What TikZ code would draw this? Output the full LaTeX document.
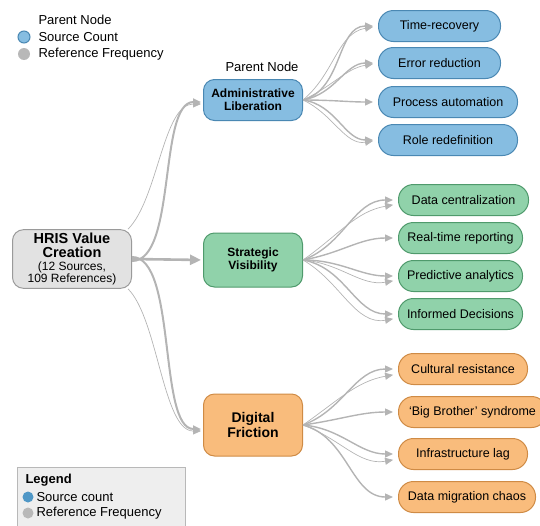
\documentclass[tikz,border=0pt]{standalone}
\usepackage{fontspec}
\setmainfont{Liberation Sans}
\usetikzlibrary{arrows.meta}
\usetikzlibrary{positioning, shapes.geometric}

\definecolor{rootfill}{HTML}{E2E2E2}
\definecolor{rootdraw}{HTML}{9A9A9A}
\definecolor{bluefill}{HTML}{86BDE1}
\definecolor{bluedraw}{HTML}{4A88B3}
\definecolor{greenfill}{HTML}{90D2AA}
\definecolor{greendraw}{HTML}{4F9A6C}
\definecolor{orangefill}{HTML}{F9BC7C}
\definecolor{orangedraw}{HTML}{CF8B45}
\definecolor{linkgray}{HTML}{B4B4B4}
\definecolor{dotblue}{HTML}{4F97C6}
\definecolor{dotgray}{HTML}{B8B8B8}

\tikzset{
    parent/.style={rounded corners=11pt, line width=1pt, align=center,
        minimum width=99pt, font=\fontsize{12}{13}\selectfont\bfseries},
    leaf/.style={rounded corners=15pt, line width=1pt, anchor=west,
        minimum height=31pt, font=\fontsize{12.5}{14}\selectfont},
    link/.style={draw=linkgray, line width=1.4pt,
        -{Triangle[length=8pt,width=7pt]}, shorten >=5pt},
    thinlink/.style={link, line width=0.7pt}
}

\begin{document}
\begin{tikzpicture}[x=1pt, y=-1pt]
        \useasboundingbox (0,0) rectangle (540,525);

        % top legend
        \node[anchor=west, font=\fontsize{13}{14}\selectfont] (lgp) at (35,20) {Parent Node};
        \node[circle, fill=bluefill, draw=bluedraw, line width=1pt, inner sep=0pt, minimum size=12pt] (lgbdot) at (24,37) {};
        \node[anchor=west, font=\fontsize{13}{14}\selectfont] (lgs) at (35,37) {Source Count};
        \node[circle, fill=dotgray, inner sep=0pt, minimum size=12pt] (lggdot) at (24,54) {};
        \node[anchor=west, font=\fontsize{13}{14}\selectfont] (lgr) at (35,54) {Reference Frequency};

        % root and parents
        \node[parent, fill=rootfill, draw=rootdraw, minimum width=119pt, minimum height=58pt,
            font=\fontsize{14.5}{14}\selectfont\bfseries] (root) at (72,259)
            {HRIS Value\\Creation\\[-1pt]{\fontsize{12}{11}\selectfont\mdseries (12 Sources,}\\[-2pt]{\fontsize{12}{11}\selectfont\mdseries 109 References)}};
        \node[parent, fill=bluefill, draw=bluedraw, minimum height=41pt] (adm) at (253,100) {Administrative\\Liberation};
        \node[font=\fontsize{13}{14}\selectfont] (admlbl) at (262,67) {Parent Node};
        \node[parent, fill=greenfill, draw=greendraw, minimum height=54pt] (strat) at (253,260) {Strategic\\Visibility};
        \node[parent, fill=orangefill, draw=orangedraw, minimum height=62pt,
            font=\fontsize{14}{15}\selectfont\bfseries] (fric) at (253,425) {Digital\\Friction};

        % leaves
        \node[leaf, fill=bluefill, draw=bluedraw, minimum width=122pt] (t1) at (378,26) {Time-recovery};
        \node[leaf, fill=bluefill, draw=bluedraw, minimum width=122pt] (t2) at (378,63) {Error reduction};
        \node[leaf, fill=bluefill, draw=bluedraw, minimum width=139pt] (t3) at (378,102) {Process automation};
        \node[leaf, fill=bluefill, draw=bluedraw, minimum width=139pt] (t4) at (378,140) {Role redefinition};

        \node[leaf, fill=greenfill, draw=greendraw, minimum width=130pt] (s1) at (398,200) {Data centralization};
        \node[leaf, fill=greenfill, draw=greendraw, minimum width=124pt] (s2) at (398,238) {Real-time reporting};
        \node[leaf, fill=greenfill, draw=greendraw, minimum width=124pt] (s3) at (398,276) {Predictive analytics};
        \node[leaf, fill=greenfill, draw=greendraw, minimum width=124pt] (s4) at (398,314) {Informed Decisions};

        \node[leaf, fill=orangefill, draw=orangedraw, minimum width=129pt] (f1) at (398,369) {Cultural resistance};
        \node[leaf, fill=orangefill, draw=orangedraw, minimum width=148pt] (f2) at (398,412) {`Big Brother' syndrome};
        \node[leaf, fill=orangefill, draw=orangedraw, minimum width=129pt] (f3) at (398,454) {Infrastructure lag};
        \node[leaf, fill=orangefill, draw=orangedraw, minimum width=137pt] (f4) at (398,497) {Data migration chaos};

        % root to parents
        \draw[link, line width=2.6pt, -{Triangle[length=11pt,width=10pt]}, shorten >=2pt] (root.east) -- (strat.west);
        \draw[link, line width=2pt, shorten >=2pt] ([yshift=-2pt]root.east) .. controls +(45,0) and +(-45,0) .. ([yshift=-2pt]adm.west);
        \draw[thinlink, shorten >=2pt] ([xshift=-4pt]root.north east) .. controls +(30,-30) and +(-40,0) .. ([yshift=-4pt]adm.west);
        \draw[link, line width=2pt, shorten >=2pt] ([yshift=2pt]root.east) .. controls +(45,0) and +(-45,0) .. ([yshift=-4pt]fric.west);
        \draw[thinlink, shorten >=2pt] ([xshift=-4pt]root.south east) .. controls +(30,30) and +(-40,0) .. ([yshift=-6pt]fric.west);

        % parents to leaves
        \foreach \leaf/\ang in {t1/15, t2/10, t3/0, t4/-8} {
            \draw[link] (adm.east) to[out=\ang, in=180] (\leaf.west);
        }
        \foreach \leaf/\ang in {t1/40, t2/25, t4/-25} {
            \draw[thinlink] (adm.east) to[out=\ang, in=190] (\leaf.west);
        }
        \foreach \leaf/\ang in {s1/20, s2/10, s3/0, s4/-10} {
            \draw[link] (strat.east) to[out=\ang, in=180] (\leaf.west);
        }
        \foreach \leaf/\ang in {s1/35, s3/-5, s4/-30} {
            \draw[thinlink] (strat.east) to[out=\ang, in=190] ([yshift=-4pt]\leaf.west);
        }
        \foreach \leaf/\ang in {f1/20, f2/8, f3/-5, f4/-15} {
            \draw[link] (fric.east) to[out=\ang, in=180] (\leaf.west);
        }
        \foreach \leaf/\ang in {f1/35, f3/-20} {
            \draw[thinlink] (fric.east) to[out=\ang, in=190] ([yshift=-5pt]\leaf.west);
        }

        % bottom legend
        \node[draw=rootdraw!70, fill=rootfill!60, minimum width=168pt, minimum height=62pt, anchor=north west] (legbox) at (17,467) {};
        \node[anchor=west, font=\fontsize{13}{14}\selectfont\bfseries] (legtitle) at (22,480) {Legend};
        \node[circle, fill=dotblue, inner sep=0pt, minimum size=11pt] (legbdot) at (28,497) {};
        \node[anchor=west, font=\fontsize{13}{14}\selectfont] (legs) at (33,497) {Source count};
        \node[circle, fill=dotgray, inner sep=0pt, minimum size=11pt] (leggdot) at (28,513) {};
        \node[anchor=west, font=\fontsize{13}{14}\selectfont] (legr) at (33,513) {Reference Frequency};
\end{tikzpicture}
\end{document}
